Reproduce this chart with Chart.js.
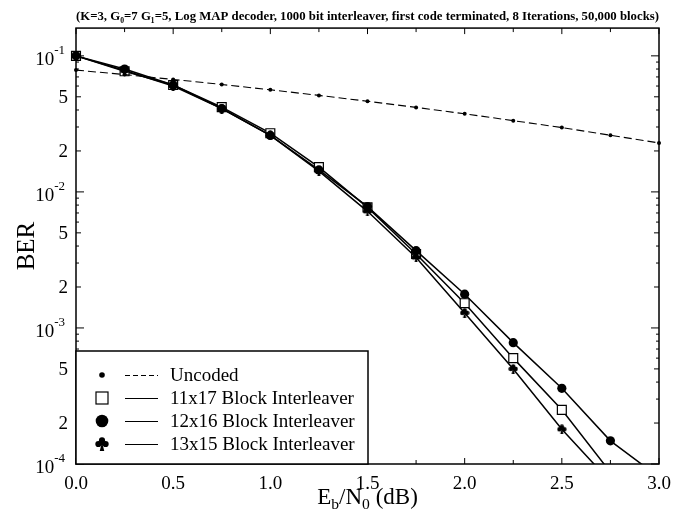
<!DOCTYPE html>
<html>
<head>
<meta charset="utf-8">
<script src="https://cdn.jsdelivr.net/npm/chart.js@4/dist/chart.umd.min.js"></script>
<style>
  html, body { margin: 0; padding: 0; background: #fff; }
</style>
</head>
<body>
<canvas id="ber" width="681" height="514"></canvas>
<script>
// Eb/N0 in dB, one point every 0.25 dB
const ebn0 = [0, 0.25, 0.5, 0.75, 1.0, 1.25, 1.5, 1.75, 2.0, 2.25, 2.5, 2.75, 3.0];

// BER values
const uncoded = [0.0786, 0.0728, 0.0671, 0.0616, 0.0563, 0.0512, 0.0464, 0.0418, 0.0375, 0.0334, 0.0297, 0.0261, 0.0229];
const blk11x17 = [0.100, 0.077, 0.061, 0.042, 0.027, 0.0152, 0.0077, 0.0035, 0.00152, 0.00060, 0.00025, 0.000087, null];
const blk12x16 = [0.100, 0.080, 0.061, 0.041, 0.026, 0.0145, 0.0078, 0.0037, 0.00177, 0.00078, 0.00036, 0.000148, 0.000080];
const blk13x15 = [0.100, 0.078, 0.060, 0.041, 0.026, 0.0142, 0.0072, 0.0033, 0.00129, 0.00050, 0.00018, 0.000074, null];

const seriesNames = ['Uncoded', '11x17 Block Interleaver', '12x16 Block Interleaver', '13x15 Block Interleaver'];

const xTicks = [0, 0.25, 0.5, 0.75, 1.0, 1.25, 1.5, 1.75, 2.0, 2.25, 2.5, 2.75, 3.0];
const xTickLabels = ['0.0', '', '0.5', '', '1.0', '', '1.5', '', '2.0', '', '2.5', '', '3.0'];

const yTicks = [1e-4, 2e-4, 3e-4, 4e-4, 5e-4, 6e-4, 7e-4, 8e-4, 9e-4,
                1e-3, 2e-3, 3e-3, 4e-3, 5e-3, 6e-3, 7e-3, 8e-3, 9e-3,
                1e-2, 2e-2, 3e-2, 4e-2, 5e-2, 6e-2, 7e-2, 8e-2, 9e-2, 1e-1];
// "base^exponent" for decades
const yTickLabels = ['10^-4', '2', '', '', '5', '', '', '', '',
                     '10^-3', '2', '', '', '5', '', '', '', '',
                     '10^-2', '2', '', '', '5', '', '', '', '',
                     '10^-1'];

const chartTitle = '(K=3, G₀=7 G₁=5, Log MAP decoder, 1000 bit interleaver, first code terminated, 8 Iterations, 50,000 blocks)';

const serif = "'Liberation Serif', 'Times New Roman', serif";

function makeClub(s) {
  const c = document.createElement('canvas');
  c.width = s; c.height = s;
  const g = c.getContext('2d');
  const r = s * 0.22;
  g.fillStyle = '#000';
  g.beginPath(); g.arc(s / 2, r + 0.3, r, 0, Math.PI * 2); g.fill();
  g.beginPath(); g.arc(r + 0.3, s * 0.5, r, 0, Math.PI * 2); g.fill();
  g.beginPath(); g.arc(s - r - 0.3, s * 0.5, r, 0, Math.PI * 2); g.fill();
  g.beginPath(); g.arc(s / 2, s * 0.42, r * 0.8, 0, Math.PI * 2); g.fill();
  g.beginPath();
  g.moveTo(s / 2, s * 0.35);
  g.lineTo(s / 2 - s * 0.16, s);
  g.lineTo(s / 2 + s * 0.16, s);
  g.closePath(); g.fill();
  return c;
}
const clubSmall = makeClub(10);
const clubBig = makeClub(14);

function pts(arr) {
  return ebn0.map((x, i) => ({ x: x, y: arr[i] }));
}

// frame and inward tick marks
const frame = {
  id: 'frame',
  beforeDatasetsDraw(chart) {
    const { ctx, chartArea: a, scales: { x, y } } = chart;
    ctx.save();
    ctx.strokeStyle = '#000';
    ctx.lineWidth = 1;
    ctx.beginPath();
    xTicks.forEach((v, i) => {
      const px = x.getPixelForValue(v);
      const len = xTickLabels[i] ? 6 : 4;
      ctx.moveTo(px, a.bottom); ctx.lineTo(px, a.bottom - len);
      ctx.moveTo(px, a.top); ctx.lineTo(px, a.top + len);
    });
    yTicks.forEach((v, i) => {
      const py = y.getPixelForValue(v);
      const lab = yTickLabels[i];
      const len = lab.includes('^') ? 8 : (lab ? 5 : 3);
      ctx.moveTo(a.left, py); ctx.lineTo(a.left + len, py);
      ctx.moveTo(a.right, py); ctx.lineTo(a.right - len, py);
    });
    ctx.stroke();
    ctx.lineWidth = 1.5;
    ctx.strokeRect(a.left, a.top, a.right - a.left, a.bottom - a.top);
    ctx.restore();
  }
};

// y tick labels with superscript exponents
const yLabels = {
  id: 'yLabels',
  afterDraw(chart) {
    const { ctx, chartArea: a, scales: { y } } = chart;
    ctx.save();
    ctx.fillStyle = '#000';
    ctx.textAlign = 'right';
    ctx.textBaseline = 'middle';
    const rx = a.left - 8;
    yTicks.forEach((v, i) => {
      const lab = yTickLabels[i];
      if (!lab) return;
      const py = y.getPixelForValue(v);
      if (lab.includes('^')) {
        const [base, exp] = lab.split('^');
        ctx.font = '13px ' + serif;
        const ew = ctx.measureText(exp).width;
        ctx.fillText(exp, rx - 3, py - 5);
        ctx.font = '19px ' + serif;
        ctx.fillText(base, rx - 3 - ew, py + 4);
      } else {
        ctx.font = '19px ' + serif;
        ctx.fillText(lab, rx, py + 1);
      }
    });
    ctx.restore();
  }
};

// x axis title with subscripts
const xTitle = {
  id: 'xTitle',
  afterDraw(chart) {
    const { ctx, chartArea: a } = chart;
    const size = 23;
    const parts = [['E', 0], ['b', 1], ['/N', 0], ['0', 1], [' (dB)', 0]];
    ctx.save();
    ctx.fillStyle = '#000';
    ctx.textBaseline = 'alphabetic';
    let total = 0;
    parts.forEach(p => {
      ctx.font = (p[1] ? size * 0.68 : size) + 'px ' + serif;
      total += ctx.measureText(p[0]).width;
    });
    let cx = (a.left + a.right) / 2 - total / 2;
    const base = a.bottom + 40;
    parts.forEach(p => {
      ctx.font = (p[1] ? size * 0.68 : size) + 'px ' + serif;
      ctx.fillText(p[0], cx, base + (p[1] ? 5 : 0));
      cx += ctx.measureText(p[0]).width;
    });
    ctx.restore();
  }
};

// legend box in the lower left corner of the plot
const boxLegend = {
  id: 'boxLegend',
  afterDatasetsDraw(chart) {
    const { ctx, chartArea: a } = chart;
    const left = a.left, top = Math.round(a.bottom - 113), w = 292;
    ctx.save();
    ctx.fillStyle = '#fff';
    ctx.fillRect(left, top, w, a.bottom - top);
    ctx.strokeStyle = '#000';
    ctx.lineWidth = 1.5;
    ctx.strokeRect(left, top, w, a.bottom - top);
    const rows = [24, 47, 70, 93];
    ctx.font = '19px ' + serif;
    ctx.textBaseline = 'middle';
    seriesNames.forEach((name, i) => {
      const y = top + rows[i];
      const mx = left + 26;
      ctx.fillStyle = '#000';
      ctx.lineWidth = 1.2;
      if (i === 0) {
        ctx.beginPath(); ctx.arc(mx, y, 2.8, 0, Math.PI * 2); ctx.fill();
      } else if (i === 1) {
        ctx.fillStyle = '#fff';
        ctx.fillRect(mx - 6, y - 6, 12, 12);
        ctx.strokeRect(mx - 6, y - 6, 12, 12);
      } else if (i === 2) {
        ctx.beginPath(); ctx.arc(mx, y, 6.3, 0, Math.PI * 2); ctx.fill();
      } else {
        ctx.drawImage(clubBig, mx - 7, y - 7);
      }
      ctx.beginPath();
      ctx.setLineDash(i === 0 ? [5, 3] : []);
      ctx.lineWidth = 1.2;
      ctx.moveTo(left + 49, y + 0.5); ctx.lineTo(left + 82, y + 0.5);
      ctx.stroke();
      ctx.setLineDash([]);
      ctx.fillStyle = '#000';
      ctx.fillText(name, left + 94, y + 1);
    });
    ctx.restore();
  }
};

const clipArea = { left: 10, top: 10, right: 5, bottom: 0 };

new Chart(document.getElementById('ber'), {
  type: 'line',
  data: {
    datasets: [
      {
        label: seriesNames[0], data: pts(uncoded), order: 0,
        borderColor: '#000', borderWidth: 1.1, borderDash: [8, 4],
        pointStyle: 'circle', pointRadius: 2, pointBackgroundColor: '#000', pointBorderWidth: 0,
        clip: clipArea
      },
      {
        label: seriesNames[1], data: pts(blk11x17), order: 3,
        borderColor: '#000', borderWidth: 1.5,
        pointStyle: 'rect', pointRadius: 6.3, pointBackgroundColor: '#fff',
        pointBorderColor: '#000', pointBorderWidth: 1.2,
        clip: clipArea
      },
      {
        label: seriesNames[2], data: pts(blk12x16), order: 2,
        borderColor: '#000', borderWidth: 1.5,
        pointStyle: 'circle', pointRadius: 4.6, pointBackgroundColor: '#000',
        pointBorderColor: '#000', pointBorderWidth: 0,
        clip: clipArea
      },
      {
        label: seriesNames[3], data: pts(blk13x15), order: 1,
        borderColor: '#000', borderWidth: 1.5,
        pointStyle: clubSmall, pointRadius: 5,
        clip: clipArea
      }
    ]
  },
  options: {
    responsive: false,
    animation: false,
    events: [],
    layout: { padding: { left: 0, right: 22, top: 0, bottom: 0 } },
    plugins: {
      legend: { display: false },
      tooltip: { enabled: false },
      title: {
        display: true, text: chartTitle, fullSize: false, color: '#000',
        font: { family: serif, size: 13.4, weight: 'bold' },
        padding: { top: 9, bottom: 3 }
      }
    },
    scales: {
      x: {
        type: 'linear', min: 0, max: 3,
        afterBuildTicks: s => { s.ticks = xTicks.map(v => ({ value: v })); },
        afterFit: s => { s.height = 50; },
        grid: { display: false, drawTicks: false },
        border: { display: false },
        ticks: {
          autoSkip: false, maxRotation: 0, padding: 9, color: '#000',
          font: { family: serif, size: 19 },
          callback: (v, i) => xTickLabels[i]
        }
      },
      y: {
        type: 'logarithmic', min: 1e-4, max: 0.16,
        afterBuildTicks: s => { s.ticks = yTicks.map(v => ({ value: v })); },
        afterFit: s => { s.width = 76; },
        grid: { display: false, drawTicks: false },
        border: { display: false },
        title: {
          display: true, text: 'BER', color: '#000',
          font: { family: serif, size: 25 },
          padding: { top: 12 }
        },
        ticks: { display: false }
      }
    }
  },
  plugins: [frame, boxLegend, yLabels, xTitle]
});
</script>
</body>
</html>
